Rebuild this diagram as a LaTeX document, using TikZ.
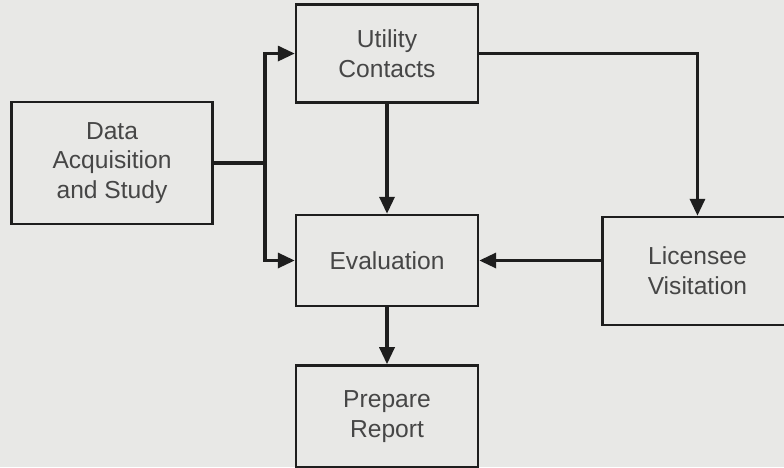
\documentclass[tikz,border=0pt]{standalone}
\usepackage{fontspec}
\setmainfont{Liberation Sans}
\usepackage{tikz}
\usetikzlibrary{arrows.meta,positioning}
\definecolor{scanbg}{RGB}{232,232,230}
\definecolor{scanink}{RGB}{30,30,30}
\definecolor{scantext}{RGB}{70,70,70}

\begin{document}
\begin{tikzpicture}[
    node distance=1.14cm and 2.44cm,
    box/.style={rectangle, draw=scanink, line width=1.4pt, fill=scanbg, minimum width=3.64cm, minimum height=1.82cm, align=center, text=scantext, font=\fontsize{14}{17}\selectfont},
    arrow/.style={-{Triangle[length=0.34cm, width=0.3cm]}, line width=1.9pt, scanink},
    line/.style={line width=1.9pt, scanink}
]
% Page
\useasboundingbox (0,0) rectangle (15.68,9.34);
\fill[scanbg] (0,0) rectangle (15.68,9.34);

% Centre column
\node[box] (eval) at (7.74,4.13) {Evaluation};
\node[box, above=2.2cm of eval, minimum height=1.96cm] (util) {Utility\\Contacts};
\node[box, below=of eval, minimum height=2.04cm] (report) {Prepare\\Report};

% Side boxes
\node[box, minimum width=4.02cm, minimum height=2.44cm] (data) at (2.24,6.08) {Data\\Acquisition\\and Study};
\node[box, right=of eval, yshift=-0.21cm, minimum width=3.8cm, minimum height=2.16cm] (visit) {Licensee\\Visitation};

% Split after data acquisition
\coordinate (split) at (5.3,6.08);
\draw[line] (data.east) -- (split);
\draw[arrow] (split) |- (util.west);
\draw[arrow] (split) |- (eval.west);

% Arrows
\draw[arrow] (util.south) -- (eval.north);
\draw[arrow] (util.east) -| (visit.north);
\draw[arrow] (visit.west |- eval.east) -- (eval.east);
\draw[arrow] (eval.south) -- (report.north);

\end{tikzpicture}
\end{document}
